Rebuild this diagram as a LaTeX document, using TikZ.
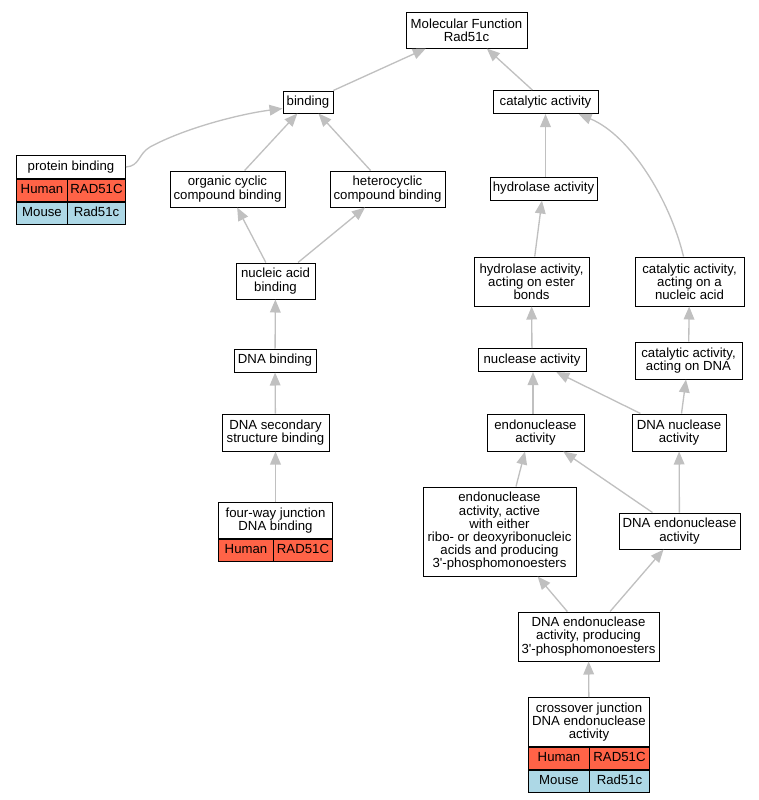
\documentclass[tikz,border=0pt]{standalone}
\usepackage{fontspec}
\setmainfont{Liberation Sans}
\usepackage{tikz}
\usetikzlibrary{calc}
\usetikzlibrary{arrows.meta}
\usetikzlibrary{positioning}
\definecolor{edgegray}{HTML}{C0C0C0}
\definecolor{humanred}{HTML}{FF6347}
\definecolor{mouseblue}{HTML}{ADD8E6}
\tikzset{
  term/.style={draw=black, line width=0.75pt, fill=white, align=center, inner sep=0pt,
    font=\fontsize{9.9}{9.9}\selectfont},
  human/.style={term, fill=humanred, minimum height=16.5pt, text height=7.2pt, text depth=2pt},
  mouse/.style={term, fill=mouseblue, minimum height=16.5pt, text height=7.2pt, text depth=2pt},
  isa/.style={draw=edgegray, line width=1pt, -{Triangle[length=9.75pt,width=8pt]}},
}
\newcommand{\termbox}[5]{ \node[term, minimum width=#4, minimum height=#5] (#1) at ( #2 ) {#3};}

\begin{document}
\begin{tikzpicture}[x=0.75pt, y=-0.75pt]
        \useasboundingbox (0,0) rectangle (759,800);
        % rank0
        \termbox{mf}{466.5,30}{Molecular Function\\Rad51c}{90.75pt}{27pt}
        % rank1
        \termbox{binding}{308,102}{binding}{37.5pt}{16.5pt}
        \termbox{catalytic}{545.5,102}{catalytic activity}{78.75pt}{17.25pt}
        % rank2
        \node[term, minimum width=81.75pt, minimum height=17.25pt, anchor=north west] (pb) at (16,155) {protein binding};
        \node[human, minimum width=38.25pt, anchor=north west] (pbhs) at (pb.south west) {Human};
        \node[human, minimum width=43.5pt, anchor=north east] (pbhg) at (pb.south east) {RAD51C};
        \node[mouse, minimum width=38.25pt, anchor=north west] (pbms) at (pbhs.south west) {Mouse};
        \node[mouse, minimum width=43.5pt, anchor=north east] (pbmg) at (pbhg.south east) {Rad51c};
        \termbox{organic}{227.5,189}{organic cyclic\\compound binding}{86.25pt}{27pt}
        \termbox{hetero}{387.5,189}{heterocyclic\\compound binding}{86.25pt}{27pt}
        \termbox{hydro}{543.5,188.5}{hydrolase activity}{80.25pt}{17.25pt}
        % rank3
        \termbox{nucleic}{275.5,281}{nucleic acid\\binding}{59.25pt}{27pt}
        \termbox{ester}{531.5,281.5}{hydrolase activity,\\acting on ester\\bonds}{86.25pt}{36.75pt}
        \termbox{canuc}{689.5,281.5}{catalytic activity,\\acting on a\\nucleic acid}{81.75pt}{36.75pt}
        % rank4
        \termbox{dnabind}{275,360.5}{DNA binding}{61.5pt}{17.25pt}
        \termbox{nuclease}{532,360}{nuclease activity}{81pt}{17.25pt}
        \termbox{cadna}{688.5,360.5}{catalytic activity,\\acting on DNA}{80.25pt}{27.75pt}
        % rank5
        \termbox{dnasec}{275.5,432.5}{DNA secondary\\structure binding}{80.25pt}{27.75pt}
        \termbox{endo}{535.5,432.5}{endonuclease\\activity}{72.75pt}{27.75pt}
        \termbox{dnanuc}{679,432.5}{DNA nuclease\\activity}{70.5pt}{27.75pt}
        % rank6
        \node[term, minimum width=85.5pt, minimum height=27pt, anchor=north west] (fw) at (218,502) {four-way junction\\DNA binding};
        \node[human, minimum width=41.25pt, anchor=north west] (fwhs) at (fw.south west) {Human};
        \node[human, minimum width=44.25pt, anchor=north east] (fwhg) at (fw.south east) {RAD51C};
        \termbox{active}{499.5,531.5}{endonuclease\\activity, active\\with either\\ribo- or deoxyribonucleic\\acids and producing\\3\textquotesingle-phosphomonoesters}{114.75pt}{66.75pt}
        \termbox{dnaendo}{679.5,531}{DNA endonuclease\\activity}{90.75pt}{27pt}
        % rank7
        \termbox{producing}{588.5,636.5}{DNA endonuclease\\activity, producing\\3\textquotesingle-phosphomonoesters}{105.75pt}{36.75pt}
        % rank8
        \node[term, minimum width=90.75pt, minimum height=36.75pt, anchor=north west] (cj) at (528,697) {crossover junction\\DNA endonuclease\\activity};
        \node[human, minimum width=45.75pt, anchor=north west] (cjhs) at (cj.south west) {Human};
        \node[human, minimum width=45pt, anchor=north east] (cjhg) at (cj.south east) {RAD51C};
        \node[mouse, minimum width=45.75pt, anchor=north west] (cjms) at (cjhs.south west) {Mouse};
        \node[mouse, minimum width=45pt, anchor=north east] (cjmg) at (cjhg.south east) {Rad51c};

        % edges, binding side
        \draw[isa] (binding) -- (mf);
        \coordinate (pbbend) at (150,147);
        \draw[isa] (pb.east) .. controls (140,166) and (138,154) .. (pbbend)
              .. controls (185,128) and (240,114) .. ($(binding.south west)+(0,-5)$);
        \draw[isa] (organic) -- (binding);
        \draw[isa] (hetero) -- (binding);
        \draw[isa] (nucleic) -- (organic);
        \draw[isa] (nucleic) -- (hetero);
        \draw[isa] (dnabind) -- (nucleic);
        \draw[isa] (dnasec) -- (dnabind);
        \draw[isa] (fw) -- (dnasec);
        % edges, catalytic side
        \draw[isa] (catalytic) -- (mf);
        \draw[isa] ($(hydro.north)+(2,0)$) -- (catalytic.south);
        \draw[isa] ($(canuc.north)+(-6,0)$) .. controls (670,200) and (630,135) .. ($(catalytic.south east)+(-20,0)$);
        \draw[isa] (ester) -- (hydro);
        \draw[isa] (nuclease) -- (ester);
        \draw[isa] (cadna) -- (canuc);
        \draw[isa] ($(endo.north)+(-2.5,0)$) -- ($(nuclease.south)+(1,0)$);
        \draw[isa] (dnanuc) -- (nuclease);
        \draw[isa] (dnanuc) -- (cadna);
        \draw[isa] ($(active.north)+(16.5,0)$) -- ($(endo.south)+(-10.5,0)$);
        \draw[isa] (dnaendo) -- (endo);
        \draw[isa] (dnaendo) -- (dnanuc);
        \draw[isa] (producing) -- (active);
        \draw[isa] (producing) -- (dnaendo);
        \draw[isa] (cj) -- (producing);
    \end{tikzpicture}
\end{document}
